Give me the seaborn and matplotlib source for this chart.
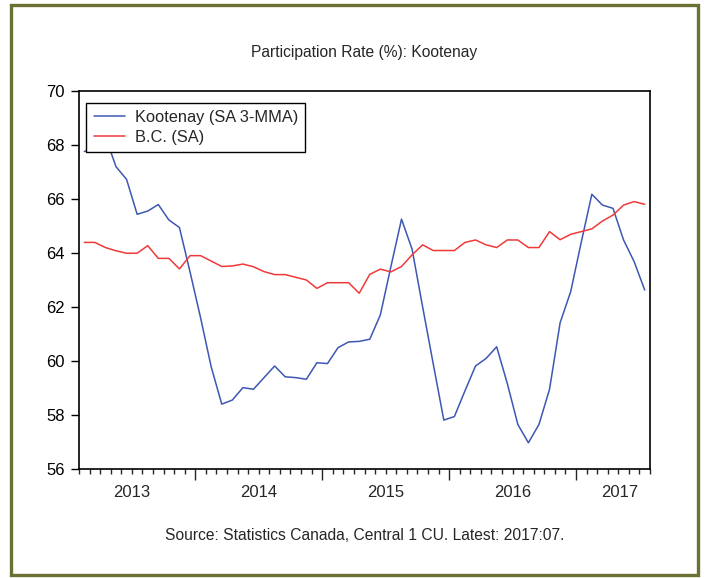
import numpy as np
import pandas as pd
import matplotlib
matplotlib.use("Agg")
import matplotlib.pyplot as plt
from matplotlib.patches import Rectangle
from matplotlib.lines import Line2D
from matplotlib.transforms import blended_transform_factory
import seaborn as sns

# Monthly observations, 2013:02 to 2017:07
months = pd.period_range("2013-02", "2017-07", freq="M")

kootenay = [67.75, 67.9, 68.3, 67.19, 66.72, 65.43, 65.55, 65.79, 65.22, 64.94,
            63.3, 61.6, 59.79, 58.41, 58.56, 59.02, 58.96, 59.39, 59.82, 59.42,
            59.39, 59.33, 59.94, 59.91, 60.50, 60.71, 60.73, 60.81, 61.71, 63.5,
            65.25, 64.14, 62.0, 59.9, 57.82, 57.95, 58.9, 59.82, 60.10, 60.53,
            59.18, 57.66, 56.98, 57.66, 58.96, 61.42, 62.57, 64.4, 66.17, 65.77,
            65.65, 64.48, 63.68, 62.63]

bc = [64.39, 64.39, 64.20, 64.08, 63.99, 63.99, 64.27, 63.80, 63.80, 63.41,
      63.90, 63.90, 63.70, 63.50, 63.52, 63.59, 63.49, 63.31, 63.20, 63.20,
      63.10, 63.00, 62.69, 62.90, 62.90, 62.90, 62.51, 63.21, 63.40, 63.30,
      63.50, 63.93, 64.30, 64.09, 64.09, 64.09, 64.39, 64.48, 64.30, 64.20,
      64.48, 64.48, 64.20, 64.20, 64.79, 64.49, 64.69, 64.79, 64.89, 65.18,
      65.40, 65.77, 65.90, 65.80]

series_names = ["Kootenay (SA 3-MMA)", "B.C. (SA)"]
series_colors = ["#3d57b3", "#f03a3a"]
year_labels = ["2013", "2014", "2015", "2016", "2017"]
y_ticks = [56, 58, 60, 62, 64, 66, 68, 70]

title = "Participation Rate (%): Kootenay"
source = "Source: Statistics Canada, Central 1 CU. Latest: 2017:07."

# long-form table for seaborn
idx = np.arange(len(months))
df = pd.concat([
    pd.DataFrame({"t": idx, "value": kootenay, "series": series_names[0]}),
    pd.DataFrame({"t": idx, "value": bc, "series": series_names[1]}),
], ignore_index=True)

sns.set_style("ticks")
plt.rcParams["font.family"] = ["Liberation Sans", "DejaVu Sans"]

fig = plt.figure(figsize=(7.04, 5.78), dpi=100)
ax = fig.add_axes([79 / 704, 1 - 469.3 / 578, 571 / 704, 378.6 / 578])

sns.lineplot(data=df, x="t", y="value", hue="series",
             palette=dict(zip(series_names, series_colors)),
             linewidth=1.1, ax=ax, legend=False)

ax.set_xlim(-0.5, len(months) - 0.5)
ax.set_ylim(56, 70)
ax.set_xlabel("")
ax.set_ylabel("")

# y axis
ax.set_yticks(y_ticks)
ax.set_yticklabels([str(v) for v in y_ticks], fontsize=12)
ax.tick_params(axis="y", direction="out", length=6, width=1, pad=4, colors="black")

# x axis: long ticks at year starts, short ticks every month
month_nums = np.array([p.month for p in months])
year_starts = idx[month_nums == 1] - 0.5
ax.set_xticks(year_starts)
ax.set_xticklabels([])
ax.set_xticks(np.arange(-0.5, len(months)), minor=True)
ax.tick_params(axis="x", which="major", direction="out", length=8, width=1)
ax.tick_params(axis="x", which="minor", direction="out", length=3.5, width=1)

label_x = [4.5, 16.5, 28.5, 40.5, 50.6]
trans = blended_transform_factory(ax.transData, ax.transAxes)
for xv, lab in zip(label_x, year_labels):
    ax.text(xv, -0.06, lab, transform=trans, ha="center", va="center", fontsize=12)

for sp in ax.spines.values():
    sp.set_visible(True)
    sp.set_color("black")
    sp.set_linewidth(1.2)

# legend
handles = [Line2D([0], [0], color=c, lw=1.1) for c in series_colors]
leg = ax.legend(handles, series_names, loc="upper left",
                bbox_to_anchor=(0.013, 0.968), fontsize=11.8, frameon=True,
                fancybox=False, edgecolor="black", framealpha=1,
                borderpad=0.45, handlelength=1.9, handletextpad=0.6,
                labelspacing=0.3, borderaxespad=0)
leg.get_frame().set_linewidth(1.0)

cx = ax.get_position().x0 + ax.get_position().width / 2
fig.text(cx, 1 - 52 / 578, title, ha="center", va="center", fontsize=11.25)
fig.text(cx, 1 - 535 / 578, source, ha="center", va="center", fontsize=11.25)

# outer frame
fig.patches.append(Rectangle((11 / 704, 1 - 575 / 578), 687 / 704, 570 / 578,
                             transform=fig.transFigure, fill=False,
                             edgecolor="#6b7033", linewidth=2.4))

fig.savefig("out.png", dpi=100)
